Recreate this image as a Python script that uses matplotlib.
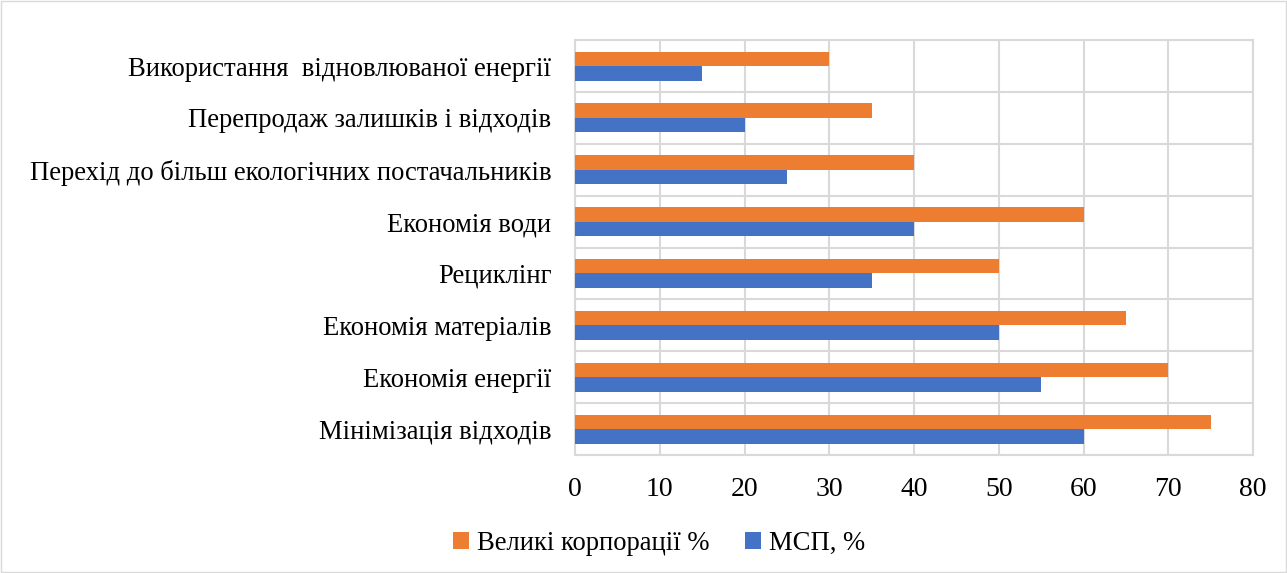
import matplotlib
matplotlib.use("Agg")
import matplotlib.pyplot as plt
from matplotlib.patches import Rectangle
import numpy as np

categories = [
    "Мінімізація відходів",
    "Економія енергії",
    "Економія матеріалів",
    "Рециклінг",
    "Економія води",
    "Перехід до більш екологічних постачальників",
    "Перепродаж залишків і відходів",
    "Використання  відновлюваної енергії",
]
large_corp = [75, 70, 65, 50, 60, 40, 35, 30]
sme = [60, 55, 50, 35, 40, 25, 20, 15]

plt.rcParams['font.family'] = ['Liberation Serif', 'DejaVu Serif']

fig = plt.figure(figsize=(12.87, 5.73), dpi=100)
ax = fig.add_axes([0.4468, 0.206, 0.9736 - 0.4468, 0.930 - 0.206])

y = np.arange(len(categories))
h = 0.28
ax.barh(y + h / 2, large_corp, h, color='#ED7D31', label='Великі корпорації %', zorder=3)
ax.barh(y - h / 2, sme, h, color='#4472C4', label='МСП, %', zorder=3)

ax.set_xlim(0, 80)
ax.set_ylim(-0.5, len(categories) - 0.5)
ax.set_xticks(np.arange(0, 81, 10))
ax.set_yticks(y, categories)
ax.set_yticks(np.arange(-0.5, len(categories), 1), minor=True)
ax.tick_params(axis='both', which='both', length=0)
ax.tick_params(axis='x', pad=16, labelsize=20)
ax.tick_params(axis='y', pad=17, labelsize=19.2)
ax.xaxis.grid(True, color='#D9D9D9', lw=1.5, zorder=0)
ax.yaxis.grid(True, which='minor', color='#D9D9D9', lw=1.5, zorder=0)
for s in ax.spines.values():
    s.set_color('#D9D9D9')
    s.set_linewidth(1.5)

ax.legend(loc='center', bbox_to_anchor=(659 / 1287, 1 - 543 / 573), bbox_transform=fig.transFigure,
          ncols=2, frameon=False, fontsize=19.2, handlelength=0.6, handleheight=0.6,
          handletextpad=0.3, columnspacing=1.3)

fig.add_artist(Rectangle((0.001, 0.001), 0.998, 0.998, transform=fig.transFigure,
                         fill=False, edgecolor='#D9D9D9', lw=1))

plt.savefig("out.png", dpi=100)
